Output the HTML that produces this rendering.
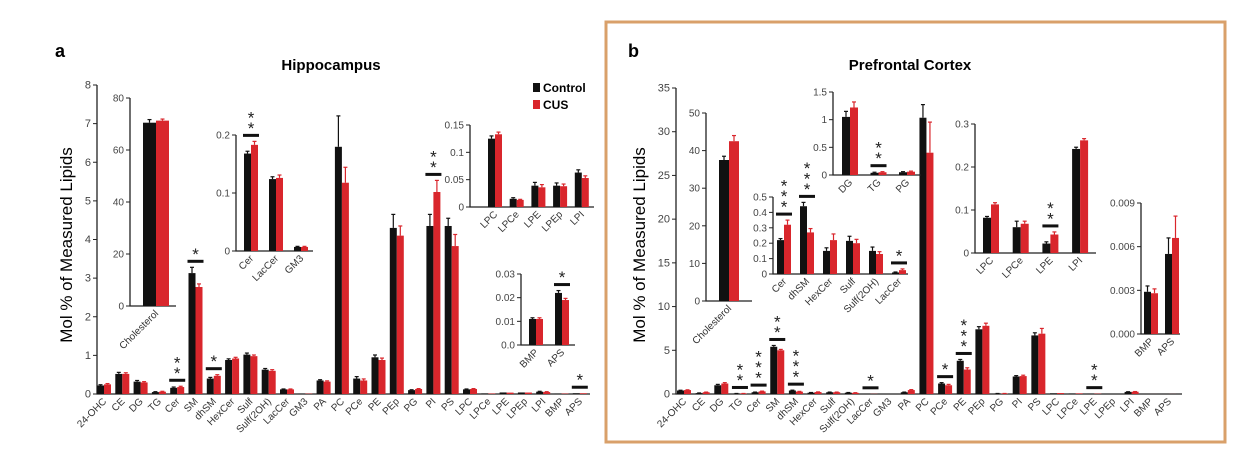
<!DOCTYPE html>
<html><head><meta charset="utf-8"><style>
html,body{margin:0;padding:0;background:#fff;}
svg{display:block;font-family:"Liberation Sans",sans-serif;}
</style></head><body>
<svg id="fig" width="1253" height="461" viewBox="0 0 1253 461" xmlns="http://www.w3.org/2000/svg">
<rect x="606" y="22" width="619" height="420" fill="none" stroke="#d9a06a" stroke-width="3"/>
<text x="55" y="57" font-size="18" font-weight="bold">a</text>
<text x="628" y="57" font-size="18" font-weight="bold">b</text>
<text x="331" y="70" font-size="15" font-weight="bold" text-anchor="middle">Hippocampus</text>
<text x="910" y="70" font-size="15" font-weight="bold" text-anchor="middle">Prefrontal Cortex</text>
<text transform="translate(72,245) rotate(-90)" font-size="17" text-anchor="middle">Mol  % of Measured Lipids</text>
<text transform="translate(645,245) rotate(-90)" font-size="17" text-anchor="middle">Mol  % of Measured Lipids</text>
<g>
<rect x="533" y="83" width="7" height="9" fill="#111"/>
<text x="543" y="92" font-size="12" font-weight="bold">Control</text>
<rect x="533" y="100" width="7" height="9" fill="#d9262c"/>
<text x="543" y="109" font-size="12" font-weight="bold">CUS</text>
</g>
</svg>
<script>
// ---------- DATA ----------
const mainCats = ["24-OHC","CE","DG","TG","Cer","SM","dhSM","HexCer","Sulf","Sulf(2OH)","LacCer","GM3","PA","PC","PCe","PE","PEp","PG","PI","PS","LPC","LPCe","LPE","LPEp","LPI","BMP","APS"];
const aCtrl = [0.22,0.52,0.32,0.05,0.16,3.13,0.40,0.88,1.02,0.63,0.12,0.01,0.35,6.4,0.40,0.95,4.3,0.10,4.35,4.35,0.12,0.015,0.04,0.04,0.06,0.01,0.02];
const aCus  = [0.25,0.52,0.30,0.06,0.18,2.77,0.47,0.92,0.98,0.60,0.12,0.01,0.32,5.47,0.35,0.88,4.1,0.13,5.23,3.83,0.13,0.013,0.036,0.038,0.05,0.011,0.019];
const aCtrlErr = [0.02,0.04,0.03,0.01,0.02,0.15,0.03,0.03,0.04,0.03,0.01,0.0,0.02,0.8,0.05,0.06,0.35,0.01,0.3,0.2,0.01,0.0,0.0,0.0,0.01,0.0,0.0];
const aCusErr  = [0.02,0.03,0.02,0.01,0.02,0.08,0.03,0.03,0.03,0.03,0.01,0.0,0.02,0.4,0.04,0.05,0.25,0.01,0.3,0.3,0.01,0.0,0.0,0.0,0.01,0.0,0.0];
const aSig = [[4,2],[5,1],[6,1],[18,2],[26,1]];
const yTicksA = [0,1,2,3,4,5,6,7,8];

const bCtrl = [0.40,0.10,1.0,0.05,0.20,5.4,0.40,0.15,0.20,0.15,0.01,0.0,0.20,31.6,1.2,3.8,7.4,0.05,2.0,6.7,0.08,0.06,0.02,0.0,0.24,0.003,0.0055];
const bCus  = [0.45,0.20,1.2,0.05,0.30,5.0,0.27,0.22,0.20,0.13,0.02,0.0,0.45,27.6,1.0,2.8,7.8,0.05,2.05,6.9,0.11,0.07,0.04,0.0,0.26,0.003,0.0066];
const bCtrlErr = [0.03,0.02,0.1,0.01,0.02,0.15,0.04,0.02,0.02,0.02,0.0,0.0,0.02,1.5,0.1,0.15,0.3,0.01,0.1,0.3,0.0,0.0,0.0,0.0,0.02,0.0,0.0];
const bCusErr  = [0.03,0.02,0.1,0.01,0.03,0.1,0.03,0.02,0.02,0.02,0.0,0.0,0.05,3.5,0.1,0.2,0.3,0.01,0.1,0.6,0.0,0.0,0.0,0.0,0.02,0.0,0.0];
const bSig = [[3,2],[4,3],[5,2],[6,3],[10,1],[14,1],[15,3],[22,2]];
const yTicksB = [0,5,10,15,20,25,30,35];

// insets panel a
const aCholCats = ["Cholesterol"]; const aCholCtrl=[70.5]; const aCholCus=[71.3]; const aCholCtrlErr=[1.2]; const aCholCusErr=[0.6]; const aCholTicks=[0,20,40,60,80];
const aCerCats = ["Cer","LacCer","GM3"]; const aCerCtrl=[0.168,0.124,0.007]; const aCerCus=[0.183,0.126,0.007]; const aCerCtrlErr=[0.004,0.004,0.001]; const aCerCusErr=[0.006,0.005,0.001]; const aCerTicks=[0,0.1,0.2]; const aCerSig=[[0,2]];
const aLpcCats = ["LPC","LPCe","LPE","LPEp","LPI"]; const aLpcCtrl=[0.125,0.015,0.039,0.039,0.063]; const aLpcCus=[0.133,0.013,0.036,0.038,0.053]; const aLpcCtrlErr=[0.005,0.002,0.006,0.005,0.005]; const aLpcCusErr=[0.004,0.001,0.005,0.004,0.004]; const aLpcTicks=[0,0.05,0.1,0.15];
const aBmpCats = ["BMP","APS"]; const aBmpCtrl=[0.011,0.022]; const aBmpCus=[0.011,0.019]; const aBmpCtrlErr=[0.0005,0.001]; const aBmpCusErr=[0.0005,0.0007]; const aBmpTicks=[0,0.01,0.02,0.03]; const aBmpSig=[[1,1]];
// insets panel b
const bCholCats = ["Cholesterol"]; const bCholCtrl=[37.5]; const bCholCus=[42.5]; const bCholCtrlErr=[1.0]; const bCholCusErr=[1.5]; const bCholTicks=[0,10,20,30,40,50];
const bCerCats = ["Cer","dhSM","HexCer","Sulf","Sulf(2OH)","LacCer"]; const bCerCtrl=[0.22,0.44,0.15,0.215,0.15,0.01]; const bCerCus=[0.32,0.27,0.22,0.20,0.13,0.025]; const bCerCtrlErr=[0.01,0.025,0.02,0.03,0.025,0.003]; const bCerCusErr=[0.03,0.025,0.04,0.025,0.015,0.008]; const bCerTicks=[0,0.1,0.2,0.3,0.4,0.5]; const bCerSig=[[0,3],[1,3],[5,1]];
const bDgCats = ["DG","TG","PG"]; const bDgCtrl=[1.05,0.04,0.05]; const bDgCus=[1.22,0.05,0.06]; const bDgCtrlErr=[0.1,0.01,0.01]; const bDgCusErr=[0.1,0.01,0.01]; const bDgTicks=[0,0.5,1,1.5]; const bDgSig=[[1,2]];
const bLpcCats = ["LPC","LPCe","LPE","LPI"]; const bLpcCtrl=[0.082,0.06,0.022,0.242]; const bLpcCus=[0.113,0.068,0.043,0.262]; const bLpcCtrlErr=[0.003,0.014,0.004,0.004]; const bLpcCusErr=[0.004,0.006,0.006,0.004]; const bLpcTicks=[0,0.1,0.2,0.3]; const bLpcSig=[[2,2]];
const bBmpCats = ["BMP","APS"]; const bBmpCtrl=[0.0029,0.0055]; const bBmpCus=[0.0028,0.0066]; const bBmpCtrlErr=[0.0004,0.0011]; const bBmpCusErr=[0.0003,0.0015]; const bBmpTicks=[0,0.003,0.006,0.009];

// ---------- DRAW ----------
const svg = document.getElementById('fig');
const NS = "http://www.w3.org/2000/svg";
function mk(tag, attrs, parent){ const e=document.createElementNS(NS,tag); for(const k in attrs) e.setAttribute(k,attrs[k]); (parent||svg).appendChild(e); return e; }

function chart(id, L, cats, ctrl, cus, ctrlErr, cusErr, ticks, sig, labelDec){
  const g = mk('g',{});
  
  
  const yMax = ticks[ticks.length-1];
  const ys = v => L.y0 - (v/yMax)*(L.y0-L.yTop);
  const xs = i => L.x1st + i*L.step;
  const ax = mk('path',{d:`M${L.ax},${L.yTop} V${L.y0} H${L.xEnd}`,stroke:'#222','stroke-width':1.3,fill:'none'},g);
  
  
  ticks.forEach(t=>{
    const y=ys(t);
    mk('line',{x1:L.ax-4,x2:L.ax,y1:y,y2:y,stroke:'#222','stroke-width':1},g);
    const tl=mk('text',{x:L.ax-6,y:y+3.5,'font-size':L.fs||10,'text-anchor':'end',fill:'#444'},g);
    tl.textContent = (labelDec!==undefined? t.toFixed(labelDec): String(t)).replace(/^0\.(\d)0$/,'0.$1');
    
    
  });
  cats.forEach((c,i)=>{
    const cx=xs(i), w=L.bw;
    [[ctrl[i],ctrlErr[i],'#111',cx-w],[cus[i],cusErr[i],'#d9262c',cx]].forEach((s,k)=>{
      const top=ys(s[0]);
      const r=mk('rect',{x:s[3],y:top,width:w,height:Math.max(0,L.y0-top),fill:s[2]},g);
      
      
      if(s[1]>0){ const et=ys(s[0]+s[1]); const ex=s[3]+w/2;
        mk('line',{x1:ex,x2:ex,y1:top,y2:et,stroke:s[2],'stroke-width':1.2},g);
        mk('line',{x1:ex-2,x2:ex+2,y1:et,y2:et,stroke:s[2],'stroke-width':1.2},g); }
    });
    const lx=cx+3, ly=L.y0+8;
    const t=mk('text',{transform:`translate(${lx},${ly}) rotate(-45)`,'font-size':L.lfs||10,'text-anchor':'end',fill:'#333'},g);
    t.textContent=c;
    
    
  });
  (sig||[]).forEach(s=>{
    const i=s[0], n=s[1];
    const top=Math.max(ctrl[i]+ctrlErr[i], cus[i]+cusErr[i]);
    const yb=Math.min(ys(top), L.y0)-6;
    const cx=xs(i);
    const b=mk('rect',{x:cx-8,y:yb-1.5,width:16,height:3,fill:'#111'},g);
    
    
    for(let k=0;k<n;k++){
      const st=mk('text',{x:cx,y:yb+9-(k+1)*10.5,'font-size':17,'text-anchor':'middle',fill:'#222'},g);
      st.textContent='*';
      
      
    }
  });
}

// panel a
chart('main-chart-a',{ax:97,y0:394,yTop:85,xEnd:590,x1st:104,step:18.3,bw:7,fs:11},mainCats,aCtrl,aCus,aCtrlErr,aCusErr,yTicksA,aSig);
chart('inset-cholesterol-a',{ax:130,y0:306,yTop:98,xEnd:176,x1st:156,step:20,bw:13},aCholCats,aCholCtrl,aCholCus,aCholCtrlErr,aCholCusErr,aCholTicks,[]);
chart('inset-cer-a',{ax:236,y0:251,yTop:135,xEnd:313,x1st:251,step:25,bw:7},aCerCats,aCerCtrl,aCerCus,aCerCtrlErr,aCerCusErr,aCerTicks,aCerSig);
chart('inset-lpc-a',{ax:470,y0:207,yTop:125,xEnd:594,x1st:495,step:21.7,bw:7},aLpcCats,aLpcCtrl,aLpcCus,aLpcCtrlErr,aLpcCusErr,aLpcTicks,[]);
chart('inset-bmp-a',{ax:521,y0:345,yTop:274,xEnd:575,x1st:536,step:26,bw:7},aBmpCats,aBmpCtrl,aBmpCus,aBmpCtrlErr,aBmpCusErr,aBmpTicks,aBmpSig,2);
// panel b
chart('main-chart-b',{ax:676,y0:394,yTop:88,xEnd:1182,x1st:684,step:18.65,bw:7,fs:11},mainCats,bCtrl,bCus,bCtrlErr,bCusErr,yTicksB,bSig);
chart('inset-cholesterol-b',{ax:706,y0:301,yTop:113,xEnd:752,x1st:729,step:20,bw:10},bCholCats,bCholCtrl,bCholCus,bCholCtrlErr,bCholCusErr,bCholTicks,[]);
chart('inset-cer-b',{ax:773,y0:274,yTop:197,xEnd:908,x1st:784,step:23,bw:7},bCerCats,bCerCtrl,bCerCus,bCerCtrlErr,bCerCusErr,bCerTicks,bCerSig);
chart('inset-dg-b',{ax:833,y0:175,yTop:92,xEnd:921,x1st:850,step:28.5,bw:8},bDgCats,bDgCtrl,bDgCus,bDgCtrlErr,bDgCusErr,bDgTicks,bDgSig);
chart('inset-lpc-b',{ax:975,y0:253,yTop:124,xEnd:1096,x1st:991,step:29.7,bw:8},bLpcCats,bLpcCtrl,bLpcCus,bLpcCtrlErr,bLpcCusErr,bLpcTicks,bLpcSig);
chart('inset-bmp-b',{ax:1141,y0:334,yTop:203,xEnd:1180,x1st:1151,step:21,bw:7},bBmpCats,bBmpCtrl,bBmpCus,bBmpCtrlErr,bBmpCusErr,bBmpTicks,[],3);
</script>
</body></html>
